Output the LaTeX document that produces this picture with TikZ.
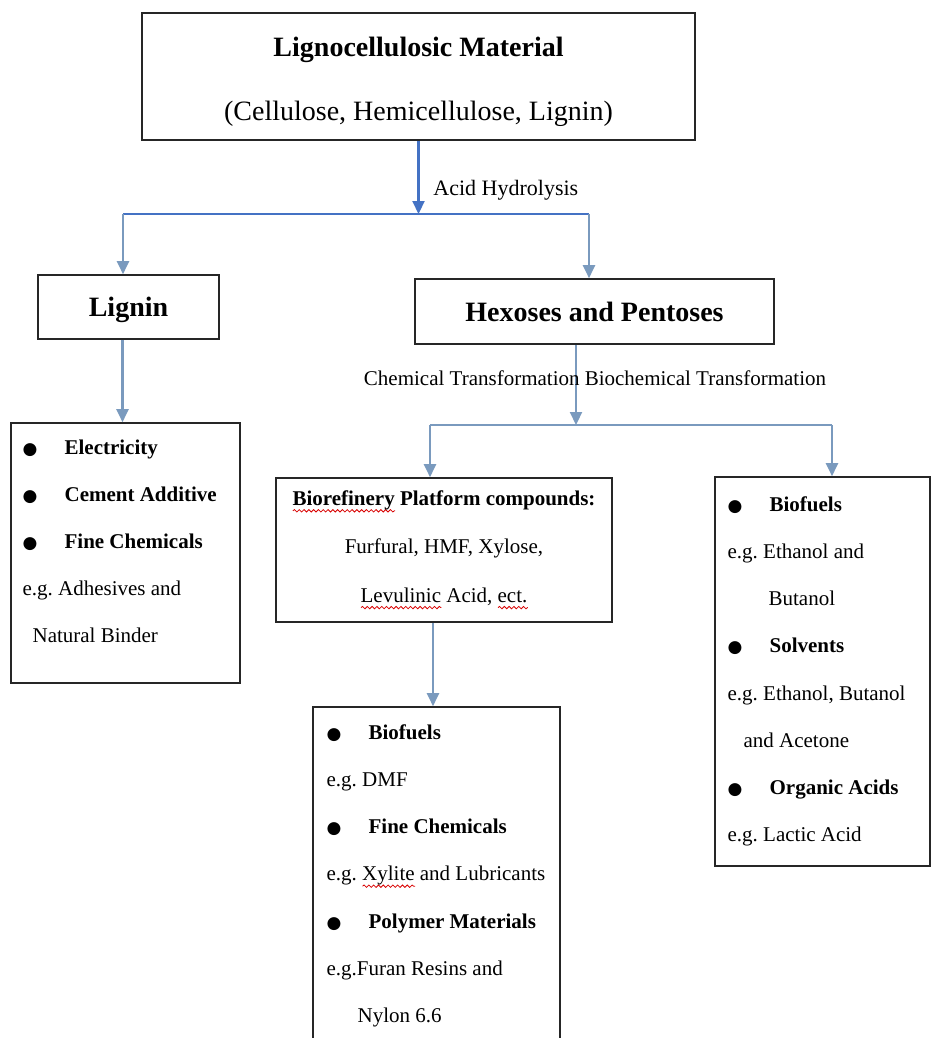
\documentclass[tikz,border=0pt]{standalone}
\usepackage{fontspec}
\setmainfont{Liberation Serif}
\newfontfamily\bulletfont{DejaVu Sans}
\usetikzlibrary{arrows.meta,decorations.pathmorphing}

\definecolor{hydroblue}{RGB}{68,114,196}
\definecolor{linkgray}{RGB}{122,154,190}
\newsavebox\spellbox
\newcommand\spellerr[1]{\sbox\spellbox{#1}\rlap{\tikz[baseline=0pt]\draw[red!85!black,line width=0.4pt,decorate,
    decoration={snake,amplitude=0.6pt,segment length=2.4pt}] (0pt,-2.6pt) -- (\wd\spellbox,-2.6pt);}#1}
\newcommand\dotitem[1]{\makebox[21pt][l]{\bulletfont\fontsize{8.5}{8}\selectfont ●}\textbf{#1}}

\begin{document}
\begin{tikzpicture}[x=0.5pt,y=-0.5pt,
    box/.style={draw=black!85,line width=0.8pt,inner sep=0pt},
    head/.style={font=\fontsize{14}{16}\selectfont\bfseries,text depth=0pt},
    list/.style={anchor=north west,align=left,inner sep=0pt,font=\fontsize{10.5}{23.6}\selectfont},
    hydro/.style={draw=hydroblue,line width=1.1pt},
    link/.style={draw=linkgray,line width=1.1pt},
    tip/.style={-{Triangle[length=6.5pt,width=6pt]}},
    steptext/.style={font=\fontsize{10.5}{12}\selectfont,inner sep=0pt}]

    % 画布
    \clip (0,0) rectangle (933,1038);
    \fill[white] (0,0) rectangle (933,1038);

    % 原料
    \node[box,minimum width=276.5pt,minimum height=63.5pt,align=center,
          font=\fontsize{14}{32}\selectfont] (material) at (418.5,76.5)
        {\rule{0pt}{15.5pt}\textbf{Lignocellulosic Material}\\(Cellulose, Hemicellulose, Lignin)};

    % 酸水解
    \coordinate (split) at (418.5,214);
    \coordinate (splitL) at (123,214);
    \coordinate (splitR) at (589,214);
    \draw[hydro,tip] (material) -- (split);
    \draw[hydro] (splitL) -- (splitR);
    \node[steptext,anchor=west,font=\fontsize{11}{12}\selectfont] (acid) at (433,190) {Acid Hydrolysis};

    % 木质素与糖
    \node[box,head,minimum width=90.5pt,minimum height=32pt] (lignin) at (128.5,307) {Lignin};
    \node[box,head,minimum width=179.5pt,minimum height=32.5pt] (sugars) at (594.5,311.5) {Hexoses and Pentoses};
    \draw[link,tip] (splitL) -- (splitL |- lignin.north);
    \draw[link,tip] (splitR) -- (splitR |- sugars.north);

    % 木质素用途
    \node[box,minimum width=114.5pt,minimum height=130pt] (uses) at (125.5,553) {};
    \node[list] (usestext) at ([xshift=6pt,yshift=-8.5pt]uses.north west)
        {\dotitem{Electricity}\\
         \dotitem{Cement Additive}\\
         \dotitem{Fine Chemicals}\\
         e.g.\ Adhesives and\\
         \hspace*{5pt}Natural Binder};
    \draw[link,tip] ([xshift=-3pt]lignin.south) -- ([xshift=-3pt]lignin.south |- uses.north);

    % 糖的转化
    \coordinate (fork) at (576,425);
    \coordinate (forkL) at (430,425);
    \coordinate (forkR) at (832,425);
    \draw[link,tip] (sugars.south -| fork) -- (fork);
    \draw[link] (forkL) -- (forkR);
    \node[steptext] (routes) at (595,378) {Chemical Transformation Biochemical Transformation};

    \node[box,minimum width=168pt,minimum height=72pt,align=center,
          font=\fontsize{10.5}{24.2}\selectfont] (platform) at (444,550)
        {\textbf{\spellerr{Biorefinery} Platform compounds:}\\
         Furfural, HMF, Xylose,\\
         \spellerr{Levulinic} Acid, \spellerr{ect.}};
    \node[box,minimum width=107.5pt,minimum height=194.5pt] (biochem) at (822.5,671.5) {};
    \node[list] (biochemtext) at ([xshift=6.5pt,yshift=-10pt]biochem.north west)
        {\dotitem{Biofuels}\\
         e.g.\ Ethanol and\\
         \hspace*{20.5pt}Butanol\\
         \dotitem{Solvents}\\
         e.g.\ Ethanol, Butanol\\
         \hspace*{8pt}and Acetone\\
         \dotitem{Organic Acids}\\
         e.g.\ Lactic Acid};
    \draw[link,tip] (forkL) -- (forkL |- platform.north);
    \draw[link,tip] (forkR) -- (forkR |- biochem.north);

    % 平台化合物产品
    \node[box,minimum width=123.5pt,minimum height=176.5pt] (products) at (436.5,883.5) {};
    \node[list] (productstext) at ([xshift=7pt,yshift=-9pt]products.north west)
        {\dotitem{Biofuels}\\
         e.g.\ DMF\\
         \dotitem{Fine Chemicals}\\
         e.g.\ \spellerr{Xylite} and Lubricants\\
         \dotitem{Polymer Materials}\\
         e.g.Furan Resins and\\
         \hspace*{15.5pt}Nylon 6.6};
    \draw[link,tip] ([xshift=-5.5pt]platform.south) -- ([xshift=-5.5pt]platform.south |- products.north);
\end{tikzpicture}
\end{document}
